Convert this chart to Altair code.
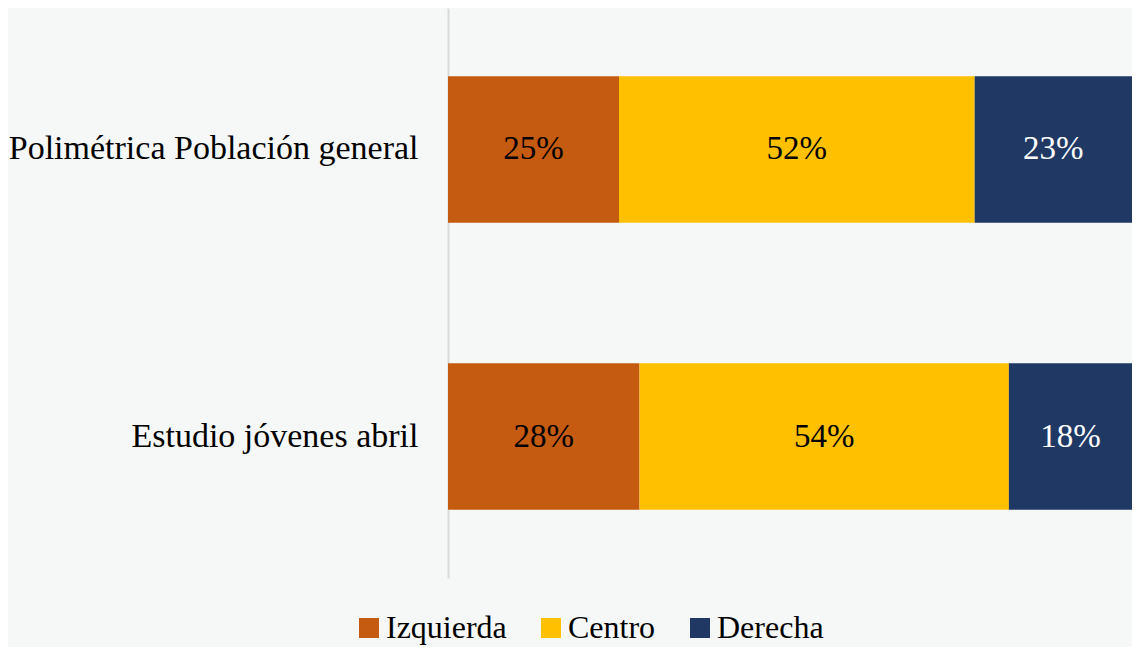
import altair as alt
import pandas as pd

categories = ["Polimétrica Población general", "Estudio jóvenes abril"]
series = ["Izquierda", "Centro", "Derecha"]
colors = ["#C55A11", "#FFC000", "#203864"]
values = {
    "Izquierda": [25, 28],
    "Centro": [52, 54],
    "Derecha": [23, 18],
}

rows = []
for si, s in enumerate(series):
    for ci, c in enumerate(categories):
        rows.append({"cat": c, "serie": s, "ord": si, "value": values[s][ci],
                     "label": f"{values[s][ci]}%"})
df = pd.DataFrame(rows)

FONT = "Liberation Serif"
FS = 33

base = alt.Chart(df).transform_stack(
    stack="value", groupby=["cat"], as_=["x0", "x1"],
    sort=[alt.SortField("ord", order="ascending")]
).transform_calculate(mid="(datum.x0 + datum.x1) / 2")

yenc = alt.Y("cat:N", sort=categories, title=None,
             scale=alt.Scale(paddingInner=0.49, paddingOuter=0.238),
             axis=alt.Axis(labelFont=FONT, labelFontSize=34, labelColor="#000000",
                           labelPadding=30, ticks=False, domainColor="#d9d9d9",
                           domainWidth=2, labelLimit=500))

bars = base.mark_bar().encode(
    x=alt.X("x0:Q", scale=alt.Scale(domain=[0, 100], nice=False), axis=None),
    x2="x1:Q",
    y=yenc,
    color=alt.Color("serie:N", sort=series,
                    scale=alt.Scale(domain=series, range=colors),
                    legend=alt.Legend(title=None, orient="none", direction="horizontal",
                                      legendX=-95, legendY=604,
                                      symbolType="square", symbolSize=400,
                                      symbolStrokeWidth=0, symbolOpacity=1,
                                      labelFont=FONT, labelFontSize=32, labelColor="#000000",
                                      columnPadding=28, labelOffset=1)),
)

texts = base.mark_text(font=FONT, fontSize=FS).encode(
    x=alt.X("mid:Q", scale=alt.Scale(domain=[0, 100], nice=False)),
    y=alt.Y("cat:N", sort=categories),
    text="label:N",
    color=alt.condition(alt.datum.serie == "Derecha", alt.value("#ffffff"), alt.value("#000000")),
)

chart = (bars + texts).properties(
    width=684, height=570,
    background="#f6f8f7",
    autosize=alt.AutoSizeParams(type="none"),
    padding={"left": 440, "top": 0, "right": 0, "bottom": 69},
).configure_view(stroke=None).configure_axis(grid=False)

chart.save("out.html", embed_options={"renderer": "svg", "actions": False})
